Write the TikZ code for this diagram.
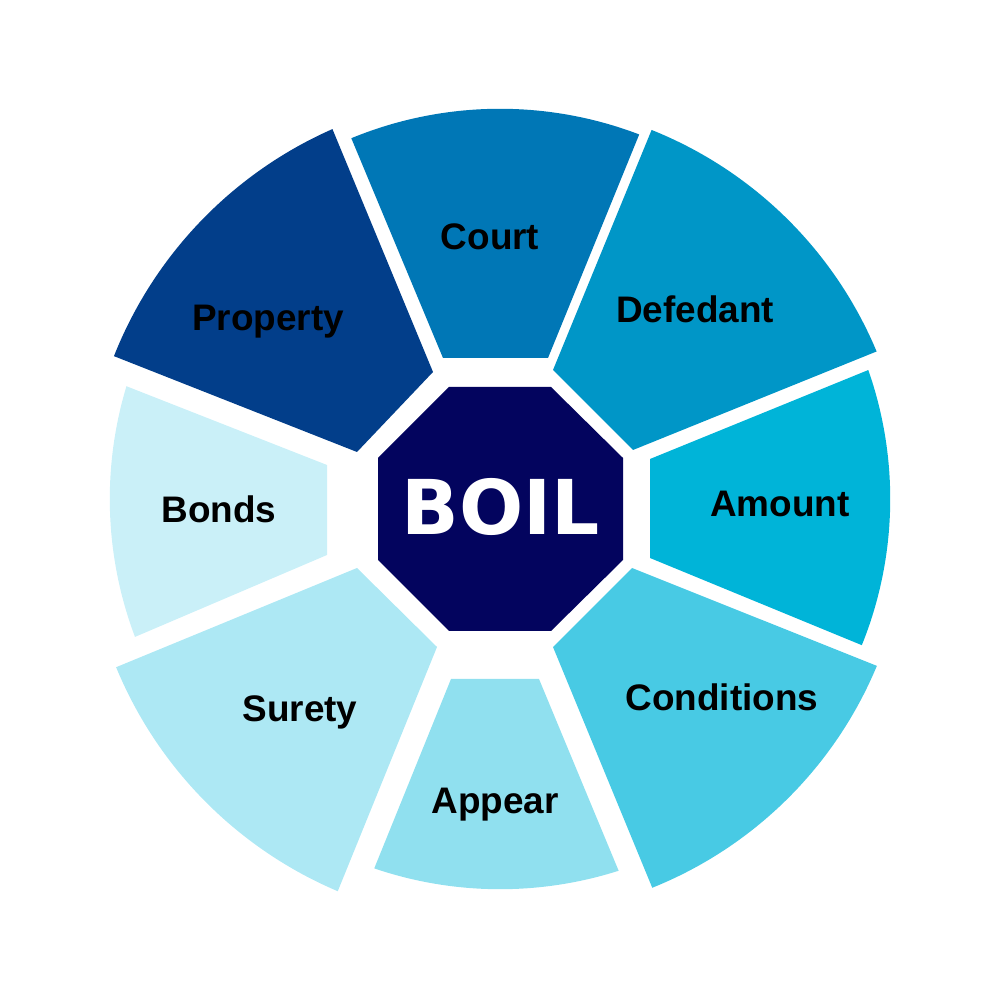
\documentclass[tikz,border=0pt]{standalone}
\usepackage{fontspec}
\setmainfont{Liberation Sans}
\newfontfamily\boilfont{DejaVu Sans}
\usetikzlibrary{calc}
\definecolor{hubblue}{HTML}{03045E}
\definecolor{propblue}{HTML}{023E8A}
\definecolor{courtblue}{HTML}{0077B6}
\definecolor{defblue}{HTML}{0096C7}
\definecolor{amtblue}{HTML}{00B4D8}
\definecolor{condblue}{HTML}{48CAE4}
\definecolor{appblue}{HTML}{90E0EF}
\definecolor{surblue}{HTML}{ADE8F4}
\definecolor{bondblue}{HTML}{CAF0F8}
\begin{document}
\begin{tikzpicture}[x=0.01cm,y=0.01cm,
  lbl/.style={anchor=base,font=\bfseries\fontsize{10.5}{12}\selectfont},
  hubtext/.style={inner sep=0pt,text=white,font=\boilfont\bfseries\fontsize{21.5}{24}\selectfont}]
\useasboundingbox (0,0) rectangle (1000,1000);
\coordinate (o) at (500,501);
\coordinate (m) at (500,491);
\fill[courtblue] ($(o)+(69.1:3.9cm)$) arc[start angle=69.1,end angle=112.4,radius=3.9cm] -- (443,642) -- (548,642) -- cycle;
\fill[defblue] ($(m)+(22.7:4.08cm)$) arc[start angle=22.7,end angle=68.2,radius=4.08cm] -- (553,630) -- (633,550) -- cycle;
\fill[amtblue] ($(o)+(-22:3.9cm)$) arc[start angle=-22,end angle=19.3,radius=3.9cm] -- (650,541) -- (650,442) -- cycle;
\fill[condblue] ($(m)+(-68.1:4.08cm)$) arc[start angle=-68.1,end angle=-22.6,radius=4.08cm] -- (632,432) -- (553,353) -- cycle;
\fill[appblue] ($(o)+(-108.8:3.9cm)$) arc[start angle=-108.8,end angle=-72.3,radius=3.9cm] -- (539,321) -- (451,321) -- cycle;
\fill[surblue] ($(m)+(202.4:4.15cm)$) arc[start angle=202.4,end angle=247,radius=4.15cm] -- (437,353) -- (357,432) -- cycle;
\fill[bondblue] ($(o)+(163.2:3.9cm)$) arc[start angle=163.2,end angle=200.7,radius=3.9cm] -- (327,445) -- (327,535) -- cycle;
\fill[propblue] ($(m)+(113.8:4.15cm)$) arc[start angle=113.8,end angle=158.4,radius=4.15cm] -- (357,548) -- (433,628) -- cycle;
\fill[hubblue] (449,613) -- (551,613) -- (623,542) -- (623,440) -- (551,369) -- (449,369) -- (378,440) -- (378,542) -- cycle;
\node[hubtext] (boil) at (500.5,493) {BOIL};
\node[lbl] (court) at (490,750) {Court};
\node[lbl] (defedant) at (695,677) {Defedant};
\node[lbl] (amount) at (780,483) {Amount};
\node[lbl] (conditions) at (722,289) {Conditions};
\node[lbl] (appear) at (495,186) {Appear};
\node[lbl] (surety) at (300,278) {Surety};
\node[lbl] (bonds) at (219,477) {Bonds};
\node[lbl] (property) at (268,669) {Property};
\end{tikzpicture}
\end{document}
